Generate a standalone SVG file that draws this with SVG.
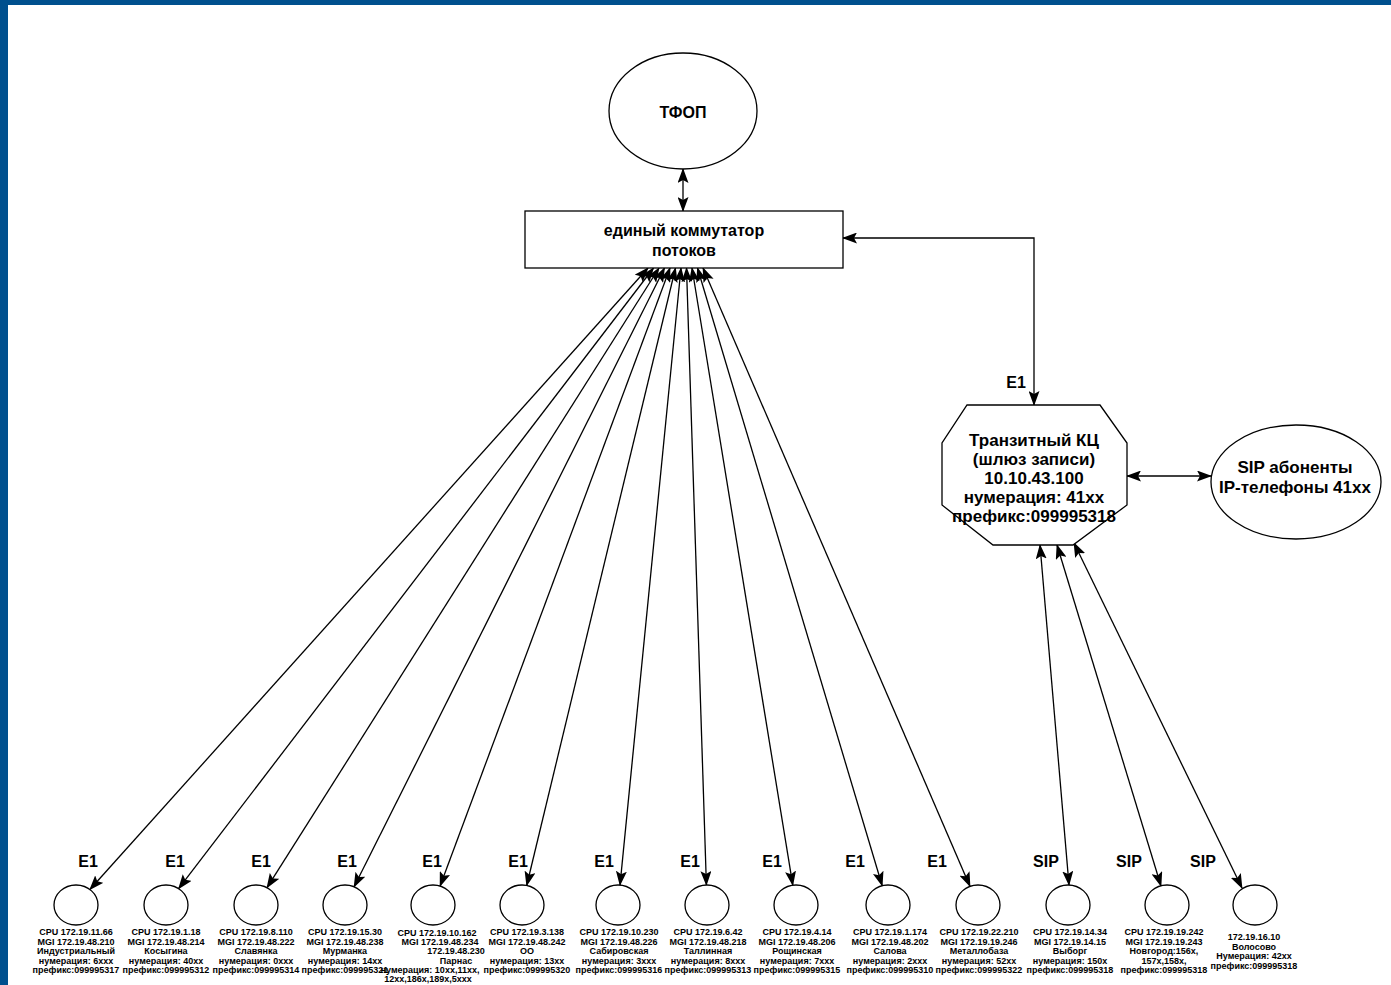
<svg xmlns="http://www.w3.org/2000/svg" width="1391" height="985" viewBox="0 0 1391 985">
<style>
.ln{fill:none;stroke:#000;stroke-width:1.3}
.sh{fill:#fff;stroke:#000;stroke-width:1.3}
.t{font-family:"Liberation Sans",Arial,sans-serif;font-weight:bold;fill:#000;text-anchor:middle}
.big{font-size:17px}
.mid{font-size:16px}
.s{font-size:9px}
.lbl{font-size:16px}
</style>
<defs>
<marker id="ah" markerUnits="userSpaceOnUse" markerWidth="15" markerHeight="11" refX="14" refY="5.5" orient="auto-start-reverse" viewBox="0 0 15 11">
<path d="M0,0 L15,5.5 L0,11 L3,5.5 z" fill="#000"/>
</marker>
</defs>
<rect x="0" y="0" width="1391" height="985" fill="#fff"/>
<rect x="0" y="0" width="1391" height="5" fill="#00508e"/>
<rect x="0" y="0" width="8" height="985" fill="#00508e"/>

<g id="connectors">
<line class="ln" x1="683" y1="169" x2="683" y2="211" marker-start="url(#ah)" marker-end="url(#ah)"/>
<polyline class="ln" points="843,238 1034,238 1034,405" marker-start="url(#ah)" marker-end="url(#ah)"/>
<line class="ln" x1="1127" y1="476" x2="1211" y2="476" marker-start="url(#ah)" marker-end="url(#ah)"/>
<line class="ln" x1="648" y1="268" x2="89.9" y2="889.5" marker-start="url(#ah)" marker-end="url(#ah)"/>
<line class="ln" x1="653.5" y1="268" x2="178.6" y2="888.6" marker-start="url(#ah)" marker-end="url(#ah)"/>
<line class="ln" x1="659" y1="268" x2="267" y2="887.7" marker-start="url(#ah)" marker-end="url(#ah)"/>
<line class="ln" x1="664.5" y1="268" x2="354.1" y2="886.8" marker-start="url(#ah)" marker-end="url(#ah)"/>
<line class="ln" x1="670" y1="268" x2="440.1" y2="886.1" marker-start="url(#ah)" marker-end="url(#ah)"/>
<line class="ln" x1="675.5" y1="268" x2="526.7" y2="885.5" marker-start="url(#ah)" marker-end="url(#ah)"/>
<line class="ln" x1="681" y1="268" x2="620" y2="885.1" marker-start="url(#ah)" marker-end="url(#ah)"/>
<line class="ln" x1="686.5" y1="268" x2="706.4" y2="885" marker-start="url(#ah)" marker-end="url(#ah)"/>
<line class="ln" x1="692" y1="268" x2="792.8" y2="885.2" marker-start="url(#ah)" marker-end="url(#ah)"/>
<line class="ln" x1="697.5" y1="268" x2="882.2" y2="885.7" marker-start="url(#ah)" marker-end="url(#ah)"/>
<line class="ln" x1="703" y1="268" x2="970" y2="886.4" marker-start="url(#ah)" marker-end="url(#ah)"/>
<line class="ln" x1="1040" y1="545" x2="1069" y2="885" marker-start="url(#ah)" marker-end="url(#ah)"/>
<line class="ln" x1="1057" y1="545" x2="1161" y2="886" marker-start="url(#ah)" marker-end="url(#ah)"/>
<line class="ln" x1="1074" y1="543" x2="1242" y2="888" marker-start="url(#ah)" marker-end="url(#ah)"/>
<text class="t lbl" x="1016" y="388">E1</text>
<text class="t lbl" x="88" y="867">E1</text>
<text class="t lbl" x="175" y="867">E1</text>
<text class="t lbl" x="261" y="867">E1</text>
<text class="t lbl" x="347" y="867">E1</text>
<text class="t lbl" x="432" y="867">E1</text>
<text class="t lbl" x="518" y="867">E1</text>
<text class="t lbl" x="604" y="867">E1</text>
<text class="t lbl" x="690" y="867">E1</text>
<text class="t lbl" x="772" y="867">E1</text>
<text class="t lbl" x="855" y="867">E1</text>
<text class="t lbl" x="937" y="867">E1</text>
<text class="t lbl" x="1046" y="867">SIP</text>
<text class="t lbl" x="1129" y="867">SIP</text>
<text class="t lbl" x="1203" y="867">SIP</text>
</g>

<g id="tfop">
<ellipse class="sh" cx="683" cy="111" rx="74" ry="58"/>
<text class="t mid" x="683" y="118">ТФОП</text>
</g>

<g id="switch">
<rect class="sh" x="525" y="211" width="318" height="57"/>
<text class="t mid" x="684" y="236">единый коммутатор</text>
<text class="t mid" x="684" y="256">потоков</text>
</g>

<g id="transit">
<polygon class="sh" points="967,405 1100,405 1127,443 1127,505 1073,545 993,545 942,505 942,443"/>
<text class="t big" x="1034" y="446">Транзитный КЦ</text>
<text class="t big" x="1034" y="465">(шлюз записи)</text>
<text class="t big" x="1034" y="484">10.10.43.100</text>
<text class="t big" x="1034" y="503">нумерация: 41xx</text>
<text class="t big" x="1034" y="522">префикс:099995318</text>
</g>

<g id="sip">
<ellipse class="sh" cx="1296" cy="482" rx="85" ry="57"/>
<text class="t big" x="1295" y="473">SIP абоненты</text>
<text class="t big" x="1295" y="493">IP-телефоны 41xx</text>
</g>

<g id="n1">
<ellipse class="sh" cx="76" cy="905" rx="22" ry="20"/>
<text class="t s" y="935"><tspan x="76">CPU 172.19.11.66</tspan><tspan x="76" dy="9.5">MGI 172.19.48.210</tspan><tspan x="76" dy="9.5">Индустриальный</tspan><tspan x="76" dy="9.5">нумерация: 6xxx</tspan><tspan x="76" dy="9.5">префикс:099995317</tspan></text>
</g>
<g id="n2">
<ellipse class="sh" cx="166" cy="905" rx="22" ry="20"/>
<text class="t s" y="935"><tspan x="166">CPU 172.19.1.18</tspan><tspan x="166" dy="9.5">MGI 172.19.48.214</tspan><tspan x="166" dy="9.5">Косыгина</tspan><tspan x="166" dy="9.5">нумерация: 40xx</tspan><tspan x="166" dy="9.5">префикс:099995312</tspan></text>
</g>
<g id="n3">
<ellipse class="sh" cx="256" cy="905" rx="22" ry="20"/>
<text class="t s" y="935"><tspan x="256">CPU 172.19.8.110</tspan><tspan x="256" dy="9.5">MGI 172.19.48.222</tspan><tspan x="256" dy="9.5">Славянка</tspan><tspan x="256" dy="9.5">нумерация: 0xxx</tspan><tspan x="256" dy="9.5">префикс:099995314</tspan></text>
</g>
<g id="n4">
<ellipse class="sh" cx="345" cy="905" rx="22" ry="20"/>
<text class="t s" y="935"><tspan x="345">CPU 172.19.15.30</tspan><tspan x="345" dy="9.5">MGI 172.19.48.238</tspan><tspan x="345" dy="9.5">Мурманка</tspan><tspan x="345" dy="9.5">нумерация: 14xx</tspan><tspan x="345" dy="9.5">префикс:099995321</tspan></text>
</g>
<g id="n5">
<ellipse class="sh" cx="433" cy="905" rx="22" ry="20"/>
<text class="t s" y="936"><tspan x="437">CPU 172.19.10.162</tspan><tspan x="440" dy="9.2">MGI 172.19.48.234</tspan><tspan x="456" dy="9.2">172.19.48.230</tspan><tspan x="456" dy="9.2">Парнас</tspan><tspan x="430" dy="9.2">нумерация: 10xx,11xx,</tspan><tspan x="428" dy="9.2">12xx,186x,189x,5xxx</tspan></text>
</g>
<g id="n6">
<ellipse class="sh" cx="522" cy="905" rx="22" ry="20"/>
<text class="t s" y="935"><tspan x="527">CPU 172.19.3.138</tspan><tspan x="527" dy="9.5">MGI 172.19.48.242</tspan><tspan x="527" dy="9.5">ОО</tspan><tspan x="527" dy="9.5">нумерация: 13xx</tspan><tspan x="527" dy="9.5">префикс:099995320</tspan></text>
</g>
<g id="n7">
<ellipse class="sh" cx="618" cy="905" rx="22" ry="20"/>
<text class="t s" y="935"><tspan x="619">CPU 172.19.10.230</tspan><tspan x="619" dy="9.5">MGI 172.19.48.226</tspan><tspan x="619" dy="9.5">Сабировская</tspan><tspan x="619" dy="9.5">нумерация: 3xxx</tspan><tspan x="619" dy="9.5">префикс:099995316</tspan></text>
</g>
<g id="n8">
<ellipse class="sh" cx="707" cy="905" rx="22" ry="20"/>
<text class="t s" y="935"><tspan x="708">CPU 172.19.6.42</tspan><tspan x="708" dy="9.5">MGI 172.19.48.218</tspan><tspan x="708" dy="9.5">Таллинная</tspan><tspan x="708" dy="9.5">нумерация: 8xxx</tspan><tspan x="708" dy="9.5">префикс:099995313</tspan></text>
</g>
<g id="n9">
<ellipse class="sh" cx="796" cy="905" rx="22" ry="20"/>
<text class="t s" y="935"><tspan x="797">CPU 172.19.4.14</tspan><tspan x="797" dy="9.5">MGI 172.19.48.206</tspan><tspan x="797" dy="9.5">Рощинская</tspan><tspan x="797" dy="9.5">нумерация: 7xxx</tspan><tspan x="797" dy="9.5">префикс:099995315</tspan></text>
</g>
<g id="n10">
<ellipse class="sh" cx="888" cy="905" rx="22" ry="20"/>
<text class="t s" y="935"><tspan x="890">CPU 172.19.1.174</tspan><tspan x="890" dy="9.5">MGI 172.19.48.202</tspan><tspan x="890" dy="9.5">Салова</tspan><tspan x="890" dy="9.5">нумерация: 2xxx</tspan><tspan x="890" dy="9.5">префикс:099995310</tspan></text>
</g>
<g id="n11">
<ellipse class="sh" cx="978" cy="905" rx="22" ry="20"/>
<text class="t s" y="935"><tspan x="979">CPU 172.19.22.210</tspan><tspan x="979" dy="9.5">MGI 172.19.19.246</tspan><tspan x="979" dy="9.5">Металлобаза</tspan><tspan x="979" dy="9.5">нумерация: 52xx</tspan><tspan x="979" dy="9.5">префикс:099995322</tspan></text>
</g>
<g id="n12">
<ellipse class="sh" cx="1068" cy="905" rx="22" ry="20"/>
<text class="t s" y="935"><tspan x="1070">CPU 172.19.14.34</tspan><tspan x="1070" dy="9.5">MGI 172.19.14.15</tspan><tspan x="1070" dy="9.5">Выборг</tspan><tspan x="1070" dy="9.5">нумерация: 150x</tspan><tspan x="1070" dy="9.5">префикс:099995318</tspan></text>
</g>
<g id="n13">
<ellipse class="sh" cx="1167" cy="905" rx="22" ry="20"/>
<text class="t s" y="935"><tspan x="1164">CPU 172.19.19.242</tspan><tspan x="1164" dy="9.5">MGI 172.19.19.243</tspan><tspan x="1164" dy="9.5">Новгород:156x,</tspan><tspan x="1164" dy="9.5">157x,158x,</tspan><tspan x="1164" dy="9.5">префикс:099995318</tspan></text>
</g>
<g id="n14">
<ellipse class="sh" cx="1255" cy="905" rx="22" ry="20"/>
<text class="t s" y="940"><tspan x="1254">172.19.16.10</tspan><tspan x="1254" dy="9.5">Волосово</tspan><tspan x="1254" dy="9.5">Нумерация: 42xx</tspan><tspan x="1254" dy="9.5">префикс:099995318</tspan></text>
</g>
</svg>
